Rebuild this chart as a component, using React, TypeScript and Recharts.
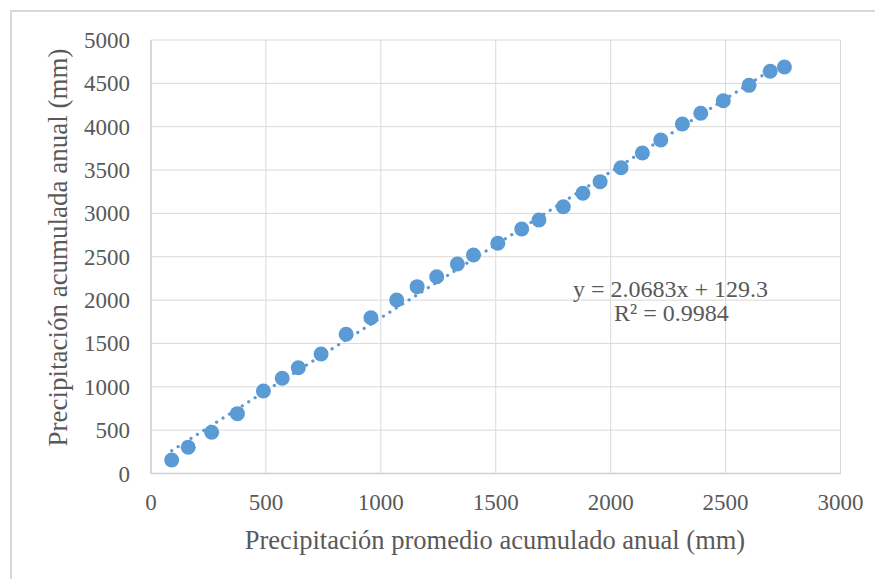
import React from "react";
import {
  ScatterChart,
  Scatter,
  XAxis,
  YAxis,
  CartesianGrid,
  ReferenceLine,
} from "recharts";

const xValues = [90, 162, 264, 376, 489, 571, 641, 740, 849, 957, 1069, 1158, 1243, 1333, 1403, 1509, 1613, 1688, 1794, 1879, 1954, 2045, 2138, 2218, 2312, 2392, 2490, 2602, 2694, 2756];
const yValues = [156, 302, 475, 690, 952, 1098, 1220, 1378, 1606, 1797, 2001, 2155, 2270, 2416, 2520, 2655, 2820, 2924, 3077, 3232, 3366, 3527, 3697, 3847, 4031, 4155, 4300, 4477, 4639, 4689];
const xTicks = [0, 500, 1000, 1500, 2000, 2500, 3000];
const yTicks = [0, 500, 1000, 1500, 2000, 2500, 3000, 3500, 4000, 4500, 5000];
const xTitle = "Precipitación promedio acumulado anual (mm)";
const yTitle = "Precipitación acumulada anual (mm)";
const equationText = "y = 2.0683x + 129.3";
const r2Text = "R² = 0.9984";

const points = xValues.map((x, i) => ({ x, y: yValues[i] }));

// least-squares linear trendline from the data
const n = xValues.length;
const mx = xValues.reduce((a, b) => a + b, 0) / n;
const my = yValues.reduce((a, b) => a + b, 0) / n;
let sxy = 0;
let sxx = 0;
for (let i = 0; i < n; i++) {
  sxy += (xValues[i] - mx) * (yValues[i] - my);
  sxx += (xValues[i] - mx) * (xValues[i] - mx);
}
const slope = sxy / sxx;
const intercept = my - slope * mx;
const xMin = Math.min(...xValues);
const xMax = Math.max(...xValues);
const trendSegment = [
  { x: xMin, y: slope * xMin + intercept },
  { x: xMax, y: slope * xMax + intercept },
];

const FONT = "Liberation Serif";
const TEXT = "#595959";
const BLUE = "#5B9BD5";

const W = 875;
const H = 571;
const PLOT_LEFT = 143;
const PLOT_TOP = 32;
const PLOT_RIGHT = 832.5;
const PLOT_BOTTOM = 465.5;
const X_AXIS_H = 80;

const tStyle = (size: number) => ({ fontFamily: FONT, fontSize: size, fill: TEXT });

const XTick = (props: any) => {
  const { x, y, payload } = props;
  return (
    <text x={x} y={y + 28.5} textAnchor="middle" style={tStyle(23)}>
      {payload.value}
    </text>
  );
};

const YTick = (props: any) => {
  const { x, y, payload } = props;
  return (
    <text x={x - 13} y={y + 8} textAnchor="end" style={tStyle(23)}>
      {payload.value}
    </text>
  );
};

export default function App() {
  return (
    <div style={{ position: "relative", width: W, height: H, background: "#fff", fontFamily: FONT }}>
      <div
        style={{
          position: "absolute",
          left: 2,
          top: 2,
          width: W + 20,
          height: H + 20,
          borderTop: "2px solid #D9D9D9",
          borderLeft: "2px solid #D9D9D9",
          boxSizing: "border-box",
        }}
      />
      <div style={{ position: "absolute", left: 0, top: 0 }}>
        <ScatterChart
          width={W}
          height={H}
          style={{ fontFamily: FONT }}
          margin={{ top: PLOT_TOP, right: W - PLOT_RIGHT, left: 0, bottom: H - PLOT_BOTTOM - X_AXIS_H }}
        >
          <CartesianGrid stroke="#D9D9D9" strokeWidth={1} />
          <XAxis
            type="number"
            dataKey="x"
            domain={[0, 3000]}
            ticks={xTicks}
            tick={<XTick />}
            tickLine={false}
            axisLine={{ stroke: "#D0D0D0", strokeWidth: 1.5 }}
            height={X_AXIS_H}
            allowDataOverflow
          />
          <YAxis
            type="number"
            dataKey="y"
            domain={[0, 5000]}
            ticks={yTicks}
            tick={<YTick />}
            tickLine={false}
            axisLine={{ stroke: "#D0D0D0", strokeWidth: 1.5 }}
            width={PLOT_LEFT}
            allowDataOverflow
          />
          <Scatter data={points} fill={BLUE} isAnimationActive={false} shape={(p: any) => <circle cx={p.cx} cy={p.cy} r={7.5} fill={BLUE} />} />
          <ReferenceLine
            segment={trendSegment}
            stroke={BLUE}
            strokeWidth={3.2}
            strokeDasharray="0.1 7.5"
            strokeLinecap="round"
          />
          <text x={565} y={289} style={tStyle(24)}>
            {equationText}
          </text>
          <text x={606} y={313} style={tStyle(24)}>
            {r2Text}
          </text>
          <text x={487} y={541} textAnchor="middle" style={tStyle(26.5)}>
            {xTitle}
          </text>
          <text
            x={0}
            y={0}
            transform={`translate(59, 239.5) rotate(-90)`}
            textAnchor="middle"
            style={tStyle(27)}
          >
            {yTitle}
          </text>
        </ScatterChart>
      </div>
    </div>
  );
}
